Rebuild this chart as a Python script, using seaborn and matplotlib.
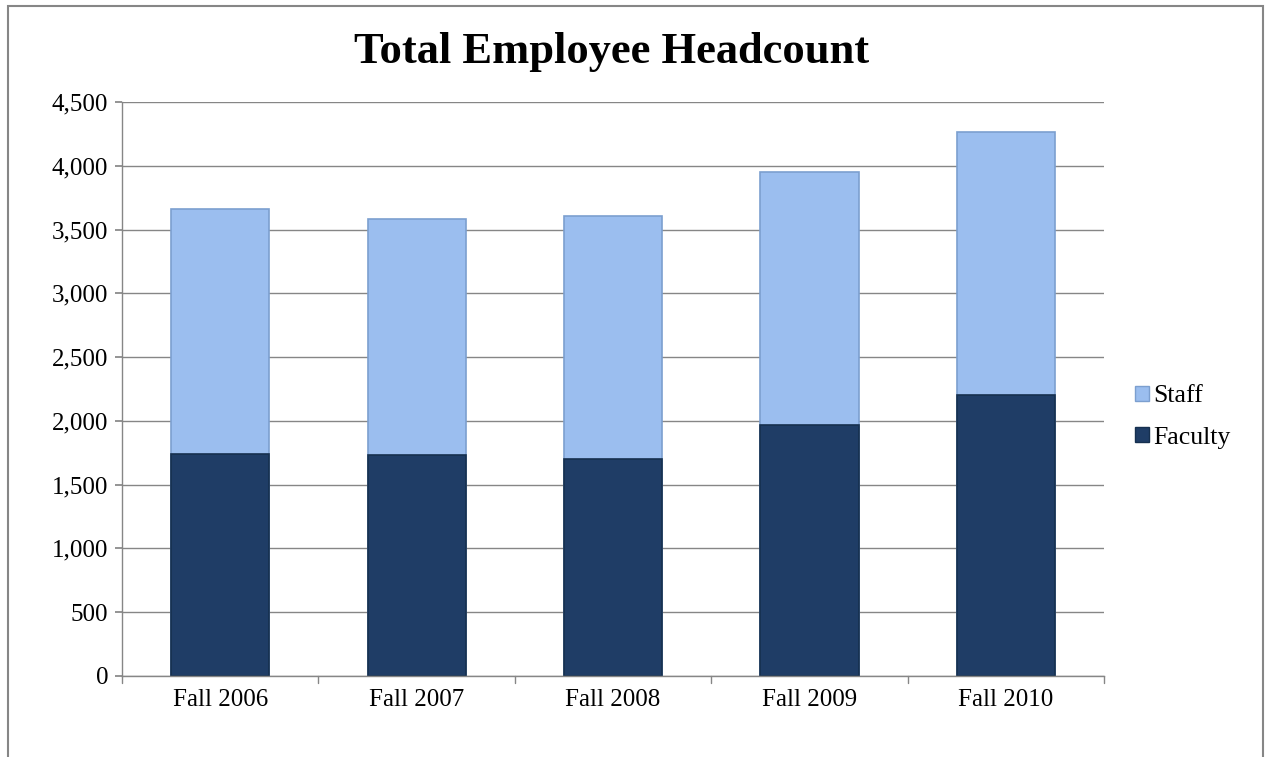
import matplotlib
matplotlib.use("Agg")
import matplotlib.pyplot as plt
import seaborn as sns
import pandas as pd
import numpy as np
from matplotlib.patches import Patch, Rectangle

categories = ["Fall 2006", "Fall 2007", "Fall 2008", "Fall 2009", "Fall 2010"]
faculty = [1740, 1730, 1700, 1970, 2205]
staff = [1920, 1850, 1910, 1980, 2060]
yticks = [0, 500, 1000, 1500, 2000, 2500, 3000, 3500, 4000, 4500]

sns.set_theme(style="white")
plt.rcParams['font.family'] = ['Liberation Serif', 'DejaVu Serif']
plt.rcParams['text.color'] = 'black'
plt.rcParams['xtick.color'] = 'black'
plt.rcParams['ytick.color'] = 'black'

df = pd.DataFrame({"cat": categories, "faculty": faculty, "staff": staff})
df["total"] = df["faculty"] + df["staff"]

W, H = 1268, 757
fig = plt.figure(figsize=(W/100, H/100), dpi=100)
ax = fig.add_axes([122/W, 1-676/H, (1104-122)/W, (676-102)/H])

staff_c = "#9BBEEF"
fac_c = "#1F3D66"
sns.barplot(data=df, x="cat", y="total", color=staff_c, width=0.5, ax=ax,
            edgecolor="#7C9FCF", linewidth=1.2, saturation=1)
sns.barplot(data=df, x="cat", y="faculty", color=fac_c, width=0.5, ax=ax,
            edgecolor="#16304F", linewidth=1.2, saturation=1)

ax.set_ylim(0, 4500)
ax.set_xlim(-0.5, 4.5)
ax.set_yticks(yticks)
ax.set_yticklabels([f"{v:,}" for v in yticks], fontsize=18, color="black")
ax.yaxis.grid(True, color="#868686", linewidth=1)
ax.set_axisbelow(True)
ax.set_xlabel("")
ax.set_ylabel("")
ax.set_xticks(range(len(categories)))
ax.set_xticklabels(categories, fontsize=18, color="black")
ax.tick_params(axis="x", length=0, pad=9, colors="black")
ax.tick_params(axis="y", length=5, color="#868686", labelcolor="black", left=True, direction="out", pad=5)
for b in np.arange(-0.5, 5.0, 1.0):
    ax.plot([b, b], [0, -55], color="#868686", lw=1, clip_on=False)
for s in ["top", "right"]:
    ax.spines[s].set_visible(False)
for s in ["left", "bottom"]:
    ax.spines[s].set_color("#868686")
    ax.spines[s].set_linewidth(1)

fig.text(612/W, 1-52/H, "Total Employee Headcount", ha="center", va="center",
         fontsize=32, fontweight="bold", color="black")

handles = [Patch(facecolor=staff_c, edgecolor="#7C9FCF", label="Staff"),
           Patch(facecolor=fac_c, edgecolor="#16304F", label="Faculty")]
fig.legend(handles=handles, loc="center left", bbox_to_anchor=(1112/W, 1-417/H),
           frameon=False, fontsize=18.5, handlelength=0.55, handleheight=0.55,
           handletextpad=0.15, labelspacing=0.75, labelcolor="black")

fig.patches.append(Rectangle((8/W, -0.05), (1263-8)/W, 1.05-6/H, transform=fig.transFigure,
                             fill=False, edgecolor="#868686", linewidth=1.5))

fig.savefig("out.png", dpi=100)
